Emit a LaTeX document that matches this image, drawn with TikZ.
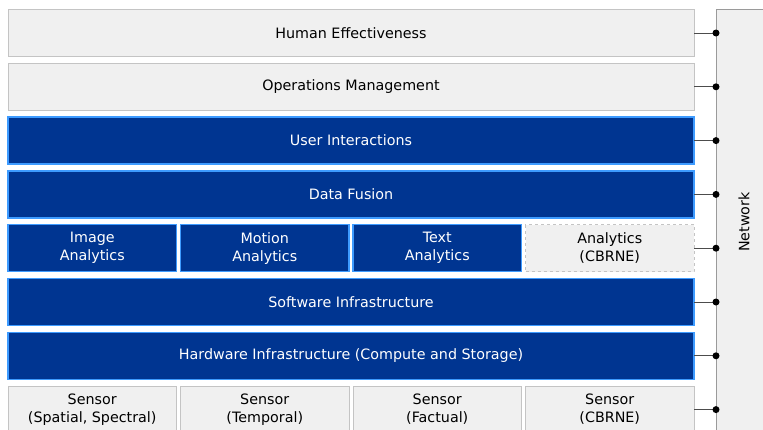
\documentclass[tikz,border=0pt]{standalone}
\usepackage{fontspec}
\setmainfont{DejaVu Sans}
\usetikzlibrary{positioning}
\definecolor{azul}{HTML}{003591}
\definecolor{azulborde}{HTML}{3D9BFF}
\definecolor{grisfondo}{HTML}{F0F0F0}
\definecolor{grisborde}{HTML}{C4C4C4}
\definecolor{grisred}{HTML}{9A9A9A}

\begin{document}
\begin{tikzpicture}[
				x=1pt, y=-1pt,
				node distance=6.8pt and 4pt, % Distancia vertical y horizontal
				% --- Estilos ---
				capa/.style={
					rectangle, 
					minimum width=686pt, 
					minimum height=47pt, 
					inner sep=0pt,
					outer sep=0pt,
					align=center,
					font=\fontsize{14.3}{18}\selectfont
				},
				capa_gris/.style={
					capa,
					draw=grisborde, 
					line width=1pt,
					fill=grisfondo
				},
				capa_azul/.style={
					capa,
					draw=azulborde, 
					line width=1.3pt,
					fill=azul,
					text=white
				},
				celda/.style={
					minimum width=168.5pt
				},
				conector/.style={
					draw=black!70, 
					line width=1pt
				},
				punto/.style={
					circle, 
					fill=black, 
					inner sep=0pt, 
					minimum size=7pt
				}
				]
				\useasboundingbox (0,0) rectangle (763,429);
				\clip (0,0) rectangle (763,429);
				
				% 1. Red a la derecha
				\draw[grisred, fill=grisfondo, line width=1pt] (716,9) rectangle (790,450);
				\node[rotate=90, font=\fontsize{14.3}{18}\selectfont] (red) at (744,222) {Network};
				
				% 2. Capas de arriba a abajo
				\node[capa_gris] (efect) at (351,33) {Human Effectiveness};
				\node[capa_gris, below=of efect] (oper) {Operations Management};
				\node[capa_azul, below=of oper] (inter) {User Interactions};
				\node[capa_azul, below=of inter] (fusion) {Data Fusion};
				
				% 3. Fila de analitica
				\node[capa_azul, celda, below=of fusion.south west, anchor=north west] (imagen) {Image\\Analytics};
				\node[capa_azul, celda, right=of imagen] (movim) {Motion\\Analytics};
				\node[capa_azul, celda, right=of movim] (texto) {Text\\Analytics};
				\node[capa_gris, celda, dashed, right=of texto] (cbrne) {Analytics\\(CBRNE)};
				
				\node[capa_azul, below=of imagen.south west, anchor=north west] (softw) {Software Infrastructure};
				\node[capa_azul, below=of softw] (hardw) {Hardware Infrastructure (Compute and Storage)};
				
				% 4. Fila de sensores
				\node[capa_gris, celda, below=of hardw.south west, anchor=north west] (sen_esp) {Sensor\\(Spatial, Spectral)};
				\node[capa_gris, celda, right=of sen_esp] (sen_temp) {Sensor\\(Temporal)};
				\node[capa_gris, celda, right=of sen_temp] (sen_fact) {Sensor\\(Factual)};
				\node[capa_gris, celda, right=of sen_fact] (sen_cbrne) {Sensor\\(CBRNE)};
				
				% 5. Conexiones con la red
				\foreach \capa in {efect, oper, inter, fusion, cbrne, softw, hardw, sen_cbrne}{
					\coordinate (toma_\capa) at (716, 0 |- \capa.east);
					\draw[conector] (\capa.east) -- (toma_\capa);
					\node[punto] at (toma_\capa) {};
				}
				
			\end{tikzpicture}
\end{document}
